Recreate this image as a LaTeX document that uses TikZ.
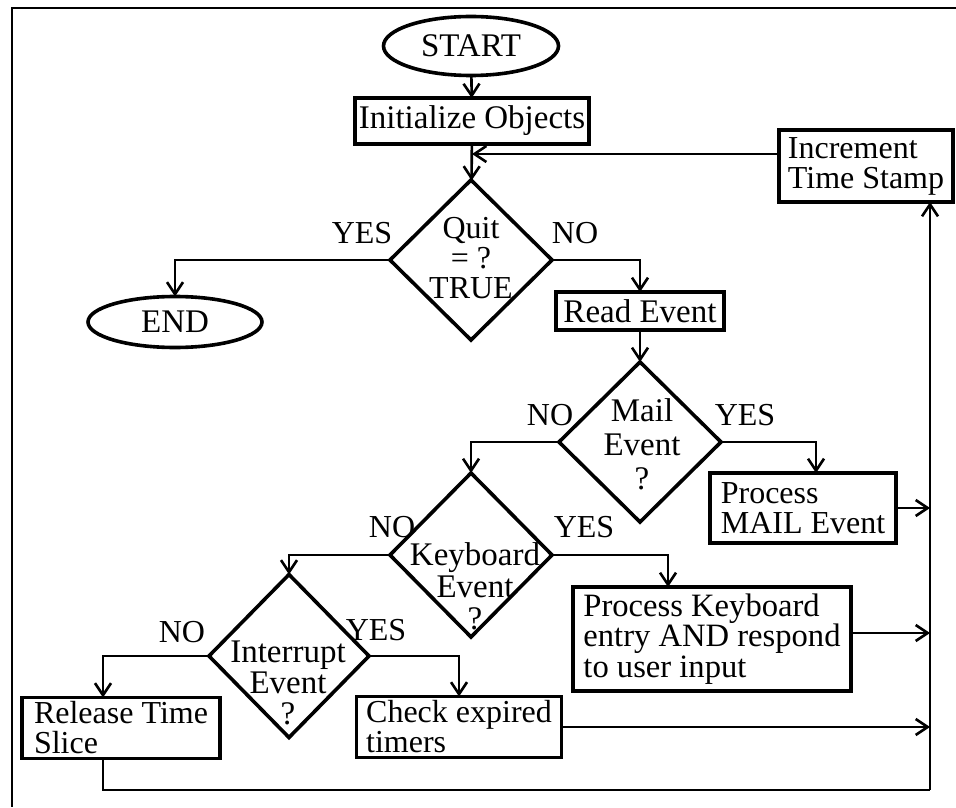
\documentclass[tikz,border=0pt]{standalone}
\usepackage{fontspec}
\setmainfont{Liberation Serif}
\usetikzlibrary{shapes.geometric,arrows.meta}
\begin{document}
\begin{tikzpicture}[x=0.5pt,y=-0.5pt,
  every node/.style={font=\fontsize{16}{15}\selectfont, inner sep=0pt, outer sep=0pt},
  box/.style={draw, rectangle, line width=1.8pt, align=left},
  term/.style={draw, ellipse, line width=1.8pt, font=\fontsize{16.5}{15}\selectfont},
  decision/.style={draw, diamond, line width=1.8pt, minimum width=81pt, minimum height=81pt},
  dtext/.style={align=center},
  conn/.style={line width=1.3pt},
  arr/.style={conn, -{Straight Barb[length=6pt,width=8pt,line width=1.3pt]}}]
\useasboundingbox (0,0) rectangle (956,807);

% page frame
\draw[line width=1.2pt] (956,8) -- (12,8) -- (12,807);

% terminals and process boxes
\node[term, minimum width=87.5pt, minimum height=29.5pt] (start) at (471,46) {START};
\node[box, minimum width=117pt, minimum height=23pt, font=\fontsize{16.5}{15}\selectfont] (init) at (472,121) {Initialize Objects};
\node[box, minimum width=87pt, minimum height=36pt] (inc) at (866,166) {Increment\\Time Stamp};
\node[term, minimum width=87pt, minimum height=25.5pt] (endn) at (175,322) {END};
\node[box, minimum width=84pt, minimum height=19pt, font=\fontsize{16.5}{15}\selectfont] (read) at (640,311) {Read Event};
\node[box, minimum width=93pt, minimum height=35pt] (mailbox) at (803,508) {Process\\MAIL Event};
\node[box, minimum width=139pt, minimum height=52pt, font=\fontsize{16.3}{15.2}\selectfont] (pk) at (712,639) {Process Keyboard\\entry AND respond\\to user input};
\node[box, minimum width=99pt, minimum height=30.5pt] (rel) at (121,728) {Release Time\\Slice};
\node[box, minimum width=102.5pt, minimum height=30.5pt] (chk) at (459,727) {Check expired\\timers};

% decisions
\node[decision, minimum height=80pt] (quit) at (471,260) {};
\node[dtext] (quitt) at (471,258) {Quit\\= ?\\TRUE};
\node[decision, minimum height=80pt] (mail) at (640,442) {};
\node[dtext, font=\fontsize{16.5}{17}\selectfont] (mailt) at (642,444) {Mail\\Event\\?};
\node[decision, minimum height=82pt] (kb) at (471,555) {};
\node[dtext, font=\fontsize{16.5}{16}\selectfont] (kbt) at (475,586) {Keyboard\\Event\\?};
\node[decision, minimum width=80pt, minimum height=81.5pt] (intr) at (289,656) {};
\node[dtext, font=\fontsize{16.5}{15.5}\selectfont] (intrt) at (288,683) {Interrupt\\Event\\?};

% branch labels
\node (qyes) at (362,233) {YES};
\node (qno) at (575,233) {NO};
\node (mno) at (550,415) {NO};
\node (myes) at (745,415) {YES};
\node (kno) at (392,527) {NO};
\node (kyes) at (584,527) {YES};
\node (ino) at (182,632) {NO};
\node (iyes) at (376,630) {YES};

% collector line on the right and along the bottom
\coordinate (br) at (930,790);

% main flow
\draw[arr] (start) -- (init);
\draw[arr] (init) -- (quit);
\draw[arr] (quit.west) -| (endn.north);
\draw[arr] (quit.east) -| (read.north);
\draw[arr] (read) -- (mail);
\draw[arr] (mail.west) -| (kb.north);
\draw[arr] (mail.east) -| ([xshift=6.5pt]mailbox.north);
\draw[arr] (kb.west) -| (intr.north);
\draw[arr] (kb.east) -| ([xshift=-22pt]pk.north);
\draw[arr] (intr.west) -| ([xshift=-9pt]rel.north);
\draw[arr] (intr.east) -| (chk.north);

% return paths
\draw[arr] (mailbox.east) -- (mailbox.east -| br);
\draw[arr] ([yshift=3pt]pk.east) -- ([yshift=3pt]pk.east -| br);
\draw[arr] (chk.east) -- (chk.east -| br);
\draw[conn] ([xshift=-9pt]rel.south) |- (br);
\draw[arr] (br) -- (br |- inc.south);
\draw[arr] ([yshift=6pt]inc.west) -- ([yshift=6pt]inc.west -| init.south);
\end{tikzpicture}
\end{document}
